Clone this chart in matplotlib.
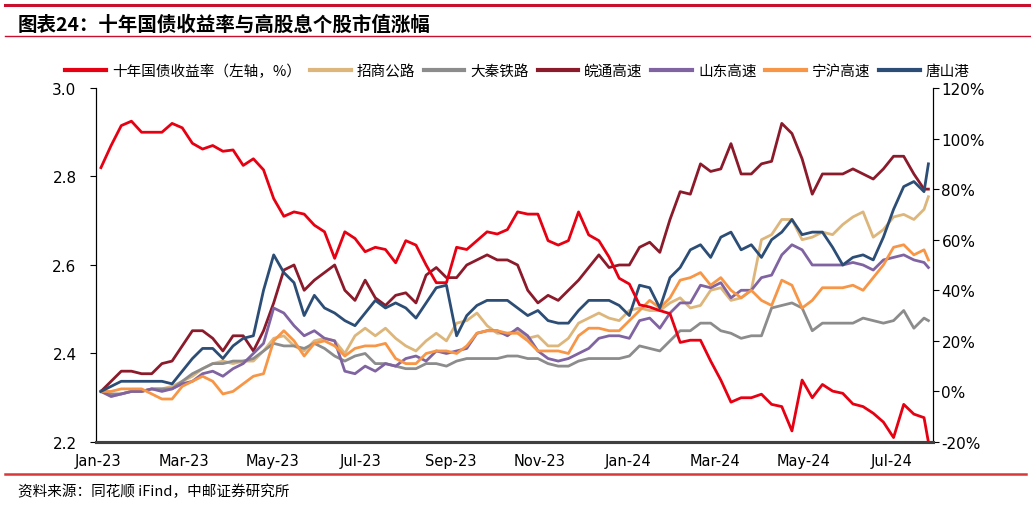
import pandas as pd
import matplotlib
matplotlib.use('Agg')
import matplotlib.pyplot as plt
import matplotlib.dates as mdates
from matplotlib.lines import Line2D
from matplotlib.ticker import FuncFormatter, MultipleLocator

plt.rcParams['font.family'] = ['Noto Sans CJK SC', 'DejaVu Sans']

# -----------------------------
# Dados (semanais)
# -----------------------------
datas = list(pd.date_range('2023-01-03', periods=82, freq='7D')) + [pd.Timestamp('2024-07-26')]

yield_10y = [
    2.82, 2.87, 2.915, 2.925, 2.90, 2.90, 2.90, 2.92, 2.91, 2.875,
    2.862, 2.87, 2.857, 2.86, 2.825, 2.84, 2.815, 2.75, 2.71, 2.72,
    2.715, 2.69, 2.675, 2.615, 2.675, 2.66, 2.63, 2.64, 2.635, 2.605,
    2.655, 2.645, 2.60, 2.56, 2.56, 2.64, 2.635, 2.655, 2.675, 2.67,
    2.68, 2.72, 2.715, 2.715, 2.655, 2.645, 2.655, 2.72, 2.668, 2.655,
    2.618, 2.57, 2.557, 2.51, 2.505, 2.497, 2.49, 2.425, 2.43, 2.43,
    2.383, 2.34, 2.29, 2.30, 2.30, 2.308, 2.285, 2.28, 2.225, 2.34,
    2.30, 2.33, 2.315, 2.31, 2.286, 2.28, 2.265, 2.245, 2.21, 2.285,
    2.263, 2.255, 2.20,
]

zhaoshang = [
    0, -2, -1, 0, 0, 1, 1, 2, 4, 6,
    9, 11, 12, 11, 12, 12, 16, 21, 22, 18,
    16, 20, 21, 20, 15, 22, 25, 22, 25, 21,
    18, 16, 20, 23, 20, 27, 28, 31, 26, 23,
    23, 24, 21, 22, 18, 18, 21, 27, 29, 31,
    29, 28, 32, 33, 32, 32, 35, 37, 33, 34,
    40, 41, 36, 37, 40, 60, 62, 68, 68, 60,
    61, 63, 62, 66, 69, 71, 61, 64, 69, 70,
    68, 72, 77,
]

daqin = [
    0, -1, -1, 0, 0, 1, 1, 1, 4, 7,
    9, 11, 11, 12, 12, 13, 16, 19, 18, 18,
    17, 19, 17, 14, 12, 14, 15, 11, 11, 10,
    9, 9, 11, 11, 10, 12, 13, 13, 13, 13,
    14, 14, 13, 13, 11, 10, 10, 12, 13, 13,
    13, 13, 14, 18, 17, 16, 20, 24, 24, 27,
    27, 24, 23, 21, 22, 22, 33, 34, 35, 33,
    24, 27, 27, 27, 27, 29, 28, 27, 28, 32,
    25, 29, 28,
]

wantong = [
    0, 4, 8, 8, 7, 7, 11, 12, 18, 24,
    24, 21, 16, 22, 22, 16, 24, 35, 48, 50,
    40, 44, 47, 50, 40, 36, 44, 37, 34, 38,
    39, 35, 46, 49, 45, 45, 50, 52, 54, 52,
    52, 50, 40, 35, 38, 36, 40, 44, 49, 54,
    49, 50, 50, 57, 59, 55, 68, 79, 78, 90,
    87, 88, 98, 86, 86, 90, 91, 106, 102, 92,
    78, 86, 86, 86, 88, 86, 84, 88, 93, 93,
    86, 80, 80,
]

shandong = [
    0, -2, -1, 0, 0, 1, 0, 1, 3, 4,
    7, 8, 6, 9, 11, 15, 19, 33, 31, 26,
    22, 24, 21, 20, 8, 7, 10, 8, 11, 10,
    13, 14, 12, 16, 15, 16, 17, 23, 24, 24,
    22, 25, 22, 16, 13, 12, 13, 15, 17, 21,
    22, 22, 21, 28, 29, 25, 31, 35, 35, 42,
    41, 43, 37, 40, 40, 45, 46, 54, 58, 56,
    50, 50, 50, 50, 51, 50, 48, 52, 53, 54,
    52, 51, 49,
]

ninghu = [
    0, 0, 1, 1, 1, -1, -3, -3, 2, 4,
    6, 4, -1, 0, 3, 6, 7, 20, 24, 20,
    14, 19, 20, 18, 14, 17, 18, 18, 19, 13,
    11, 11, 15, 16, 16, 15, 18, 23, 24, 24,
    23, 23, 20, 16, 16, 16, 15, 22, 25, 25,
    24, 24, 28, 32, 36, 33, 37, 44, 45, 47,
    42, 45, 40, 37, 40, 36, 34, 44, 42, 33,
    36, 41, 41, 41, 42, 40, 45, 50, 57, 58,
    54, 56, 52,
]

tangshan = [
    0, 2, 4, 4, 4, 4, 4, 3, 8, 13,
    17, 17, 13, 18, 21, 22, 40, 54, 47, 43,
    30, 38, 33, 31, 28, 26, 31, 36, 33, 35,
    33, 29, 35, 41, 42, 22, 30, 34, 36, 36,
    36, 33, 30, 32, 28, 27, 27, 32, 36, 36,
    36, 34, 30, 42, 41, 33, 45, 49, 56, 58,
    53, 61, 63, 56, 58, 53, 60, 63, 68, 62,
    63, 63, 57, 50, 53, 54, 52, 61, 72, 81,
    83, 79, 90,
]

acoes = [
    ('招商公路', zhaoshang, '#DDB67C'),
    ('大秦铁路', daqin, '#8C8C8C'),
    ('皖通高速', wantong, '#8B1A2B'),
    ('山东高速', shandong, '#8064A2'),
    ('宁沪高速', ninghu, '#F79646'),
    ('唐山港', tangshan, '#2C4D75'),
]

# -----------------------------
# Figura
# -----------------------------
fig = plt.figure(figsize=(10.31, 5.10), dpi=100)
ax = fig.add_axes([0.0931, 0.1314, 0.8119, 0.6941])
ax2 = ax.twinx()

l_yield, = ax.plot(datas, yield_10y, color='#E60012', lw=2.0, label='十年国债收益率（左轴，%）')
linhas = [l_yield]
for nome, vals, cor in acoes:
    l, = ax2.plot(datas, vals, color=cor, lw=2.0, label=nome)
    linhas.append(l)

ax.set_zorder(ax2.get_zorder() + 1)
ax.patch.set_visible(False)

ax.set_ylim(2.2, 3.0)
ax.yaxis.set_major_locator(MultipleLocator(0.2))
ax.yaxis.set_major_formatter(FuncFormatter(lambda v, p: f'{v:.1f}'))
ax2.set_ylim(-20, 120)
ax2.yaxis.set_major_locator(MultipleLocator(20))
ax2.yaxis.set_major_formatter(FuncFormatter(lambda v, p: f'{v:.0f}%'))

ax.set_xlim(pd.Timestamp('2022-12-30 14:00'), pd.Timestamp('2024-07-29 05:00'))
ax.xaxis.set_major_locator(mdates.MonthLocator(bymonth=[1, 3, 5, 7, 9, 11]))
ax.xaxis.set_major_formatter(mdates.DateFormatter('%b-%y'))

for a in (ax, ax2):
    a.spines['top'].set_visible(False)
    a.spines['left'].set_color('black')
    a.spines['right'].set_color('black')
    a.spines['bottom'].set_color('#404040')
    a.spines['bottom'].set_linewidth(2.2)
    for lab in a.get_yticklabels() + a.get_xticklabels():
        lab.set_family('DejaVu Sans')

ax.tick_params(axis='x', length=0, pad=8, labelsize=10.5)
ax.tick_params(axis='y', direction='out', length=4, labelsize=11, pad=10)
ax2.tick_params(axis='y', direction='out', length=4, labelsize=11, pad=2)

# Legenda
fig.legend(handles=linhas, loc='center', bbox_to_anchor=(0.502, 0.859), ncol=7,
           frameon=False, fontsize=10.5, handlelength=2.8, handletextpad=0.4,
           columnspacing=0.6)
for l in fig.legends[0].get_lines():
    l.set_linewidth(3.0)

# Título e fonte
fig.add_artist(Line2D([0.005, 1.0], [0.988, 0.988], color='#C8102E', lw=2.2))
fig.text(0.017, 0.951, '图表24：十年国债收益率与高股息个股市值涨幅', fontsize=14,
         fontweight='bold', va='center', ha='left')
fig.add_artist(Line2D([0.005, 1.0], [0.927, 0.927], color='#C8102E', lw=1.0))
fig.add_artist(Line2D([0.005, 0.995], [0.069, 0.069], color='#D9383A', lw=1.8))
fig.text(0.017, 0.035, '资料来源：同花顺 iFind，中邮证券研究所', fontsize=10.5,
         va='center', ha='left')

plt.savefig('out.png', dpi=100)
plt.close()
